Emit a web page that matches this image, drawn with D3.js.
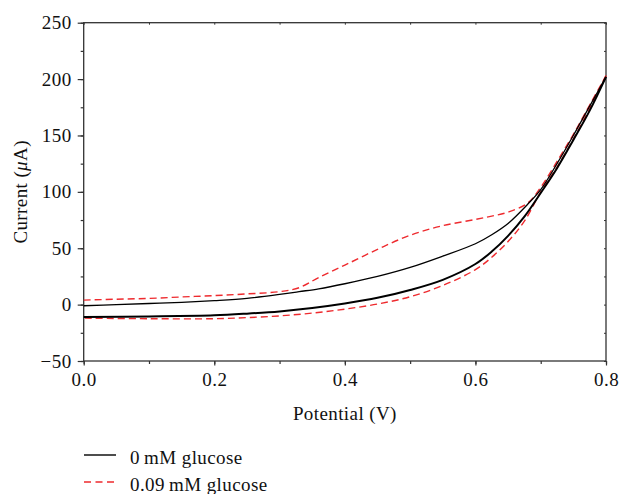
<!DOCTYPE html>
<html>
<head>
<meta charset="utf-8">
<script src="https://cdn.jsdelivr.net/npm/d3@7"></script>
<style>
  body { margin: 0; background: #fff; }
  svg text { font-family: 'Liberation Serif', 'DejaVu Serif', serif !important; fill: #111; }
</style>
</head>
<body>
<svg id="chart" width="621" height="494"></svg>
<script>
'use strict'

// anodic (forward) sweep potentials, V
const fwdV = [0, 0.05, 0.1, 0.15, 0.2, 0.25, 0.3, 0.33, 0.36, 0.4, 0.45, 0.5, 0.55, 0.6, 0.625, 0.65, 0.68, 0.7, 0.725, 0.75, 0.775, 0.8]
// cathodic (reverse) sweep potentials, V
const revV = [0.8, 0.775, 0.75, 0.725, 0.7, 0.675, 0.65, 0.625, 0.6, 0.55, 0.5, 0.45, 0.4, 0.35, 0.3, 0.25, 0.2, 0.1, 0]

// 0 mM glucose, current in uA
const blankFwd = [-1, 0, 1, 2, 3.5, 5.5, 9, 11.5, 14, 18.5, 25, 33, 43, 54, 62, 72, 89, 102, 125, 150, 176, 202]
const blankRev = [202, 172, 146, 121, 99, 78, 61, 47, 36, 22, 13, 6, 1, -3, -6, -8, -9.5, -10.5, -11]

// 0.09 mM glucose, current in uA
const glucFwd = [4, 4.8, 5.5, 6.8, 8, 9.5, 11.5, 15, 24, 35, 49, 61.5, 70, 75.5, 78.5, 82, 90, 104, 127, 151, 177, 203]
const glucRev = [203, 174, 147, 122, 100, 74, 56, 42, 31, 17, 7, 0.5, -4, -7.5, -10, -11.5, -12.5, -12.5, -12]

const xTicks = [0, 0.2, 0.4, 0.6, 0.8]
const yTicks = [-50, 0, 50, 100, 150, 200, 250]
const legendLabels = ['0\u2009mM glucose', '0.09\u2009mM glucose']

let svg = d3.select('#chart')
let mLeft = 83.7, mRight = 606, mTop = 22.7, mBottom = 361

let x = d3.scaleLinear().domain([0, 0.8]).range([mLeft, mRight])
let y = d3.scaleLinear().domain([-50, 250]).range([mBottom, mTop])

const red = '#ee2a2e'
const serif = "'Liberation Serif', 'DejaVu Serif', serif"
const fs = 19

// frame
svg.append('rect')
  .attr('x', mLeft).attr('y', mTop)
  .attr('width', mRight - mLeft).attr('height', mBottom - mTop)
  .attr('fill', 'none').attr('stroke', '#333').attr('stroke-width', 1.3)

let minorX = d3.range(0, 0.81, 0.1)
let minorY = d3.range(-50, 251, 25)

// bottom axis
let bx = svg.append('g').attr('transform', `translate(0,${mBottom})`)
  .call(d3.axisBottom(x).tickValues(minorX).tickSize(3).tickFormat(''))
bx.select('.domain').remove()
bx.selectAll('line').attr('stroke', '#333').attr('stroke-width', 1.2)
let bx2 = svg.append('g').attr('transform', `translate(0,${mBottom})`)
  .call(d3.axisBottom(x).tickValues(xTicks).tickSize(4.5).tickPadding(7).tickFormat(d3.format('.1f')))
bx2.attr('font-family', serif).attr('font-size', fs)
bx2.select('.domain').remove()
bx2.selectAll('line').attr('stroke', '#333').attr('stroke-width', 1.2)
bx2.selectAll('text').attr('letter-spacing', 0.5).attr('fill', '#111')

// left axis
let ly = svg.append('g').attr('transform', `translate(${mLeft},0)`)
  .call(d3.axisLeft(y).tickValues(minorY).tickSize(3).tickFormat(''))
ly.select('.domain').remove()
ly.selectAll('line').attr('stroke', '#333').attr('stroke-width', 1.2)
let ly2 = svg.append('g').attr('transform', `translate(${mLeft},0)`)
  .call(d3.axisLeft(y).tickValues(yTicks).tickSize(6).tickPadding(6)
    .tickFormat(d => d < 0 ? '\u2212' + Math.abs(d) : d))
ly2.attr('font-family', serif).attr('font-size', fs)
ly2.select('.domain').remove()
ly2.selectAll('line').attr('stroke', '#333').attr('stroke-width', 1.2)
ly2.selectAll('text').attr('letter-spacing', 0.5).attr('fill', '#111')

// top and right small inner ticks
let tx = svg.append('g').attr('transform', `translate(0,${mTop})`)
  .call(d3.axisTop(x).tickValues(minorX).tickSize(-2).tickFormat(''))
tx.select('.domain').remove()
tx.selectAll('line').attr('stroke', '#333')
let ry = svg.append('g').attr('transform', `translate(${mRight},0)`)
  .call(d3.axisRight(y).tickValues(minorY).tickSize(-2).tickFormat(''))
ry.select('.domain').remove()
ry.selectAll('line').attr('stroke', '#333')

// curves
let line = d3.line()
  .x(d => x(d[0]))
  .y(d => y(d[1]))
  .curve(d3.curveCatmullRom)

function pairs(vs, cs) { return vs.map((v, i) => [v, cs[i]]) }

let plot = svg.append('g')
plot.append('path').datum(pairs(fwdV, glucFwd))
  .attr('d', line).attr('fill', 'none').attr('stroke', red)
  .attr('stroke-width', 1.4).attr('stroke-dasharray', '7,4')
plot.append('path').datum(pairs(revV, glucRev))
  .attr('d', line).attr('fill', 'none').attr('stroke', red)
  .attr('stroke-width', 1.4).attr('stroke-dasharray', '7,4')
plot.append('path').datum(pairs(fwdV, blankFwd))
  .attr('d', line).attr('fill', 'none').attr('stroke', '#000')
  .attr('stroke-width', 1.3)
plot.append('path').datum(pairs(revV, blankRev))
  .attr('d', line).attr('fill', 'none').attr('stroke', '#000')
  .attr('stroke-width', 2)

// axis titles
svg.append('text')
  .attr('x', (mLeft + mRight) / 2).attr('y', 420)
  .attr('text-anchor', 'middle').attr('font-size', fs).attr('letter-spacing', 0.4)
  .text('Potential (V)')

let yt = svg.append('text')
  .attr('transform', `translate(27,${(mTop + mBottom) / 2}) rotate(-90)`)
  .attr('text-anchor', 'middle').attr('font-size', fs).attr('letter-spacing', 0.4)
yt.append('tspan').text('Current (')
yt.append('tspan').attr('font-style', 'italic').text('\u03bc')
yt.append('tspan').text('A)')

// legend
let leg = svg.append('g')
legendLabels.forEach((lab, i) => {
  let ly0 = 455 + i * 27
  leg.append('line')
    .attr('x1', 84).attr('x2', 116).attr('y1', ly0).attr('y2', ly0)
    .attr('stroke', i === 0 ? '#000' : red).attr('stroke-width', 1.4)
    .attr('stroke-dasharray', i === 0 ? null : '7,4.5')
  leg.append('text')
    .attr('x', 130).attr('y', ly0 + 9)
    .attr('font-size', fs).attr('letter-spacing', 0.4)
    .text(lab)
})
</script>
</body>
</html>
